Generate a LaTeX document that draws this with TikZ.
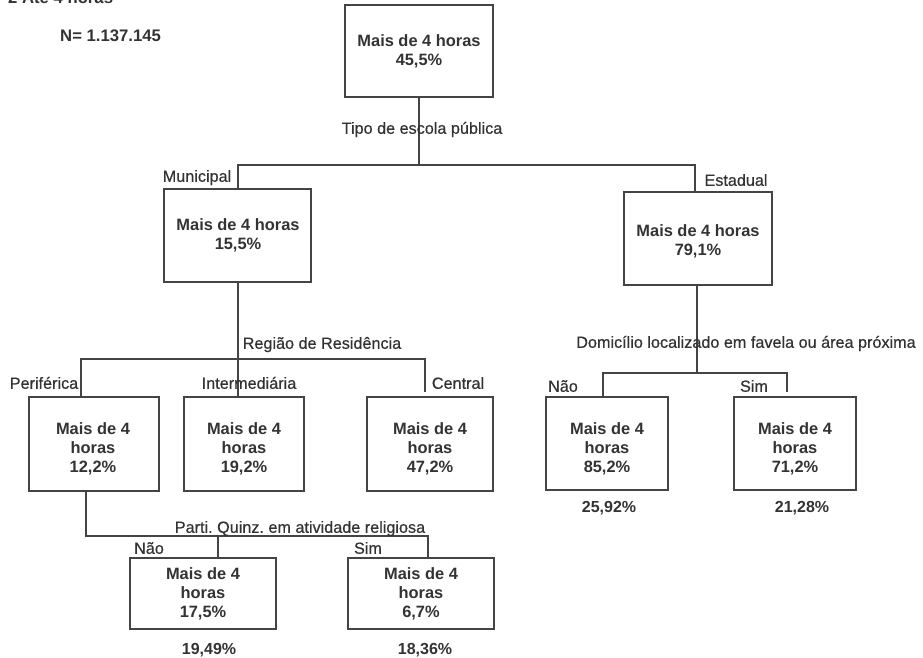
\documentclass[tikz,border=0pt]{standalone}
\usepackage{fontspec}
\setmainfont{Liberation Sans}
% slightly heavier regular weight for the branch labels
\newfontfamily\labfont{Liberation Sans}[FakeBold=0.5]
\frenchspacing
\definecolor{linec}{HTML}{444444}
\definecolor{textc}{HTML}{333333}
\tikzset{
  boxframe/.style 2 args={draw=linec, line width=1.6pt, rectangle, inner sep=0pt,
    minimum width=#1, minimum height=#2},
  boxtext/.style={font=\bfseries\fontsize{16.4}{19}\selectfont, text=textc,
    align=center, inner sep=0pt},
  lab/.style={font=\labfont\fontsize{16.2}{19}\selectfont, text=textc, inner sep=0pt,
    text height=11.6pt, text depth=0pt},
  pct/.style={font=\bfseries\fontsize{16}{19}\selectfont, text=textc, inner sep=0pt,
    text height=11.5pt, text depth=0pt},
  conn/.style={draw=linec, line width=1.6pt},
}
\begin{document}
\begin{tikzpicture}[x=1pt, y=-1pt]
\useasboundingbox (0,0) rectangle (923,657);
\fill[white] (0,0) rectangle (923,657);

% heading (cut by the page edge) and sample size
\node[font=\bfseries\fontsize{16.7}{19}\selectfont, text=textc, inner sep=0pt,
  anchor=base west] (title) at (8,3) {2 Até 4 horas};
\node[font=\bfseries\fontsize{16.7}{19}\selectfont, text=textc, inner sep=0pt,
  text height=12pt, text depth=0pt, anchor=west] (ntotal) at (60,35) {N= 1.137.145};

% tree boxes
\node[boxframe={148pt}{92pt}] (root) at (419,51) {};
\node[boxtext] (rootT) at (419,51.5) {Mais de 4 horas\\45,5\%};

\node[boxframe={147pt}{93pt}] (mun) at (237.5,235.5) {};
\node[boxtext] (munT) at (238,235) {Mais de 4 horas\\15,5\%};

\node[boxframe={148pt}{93pt}] (est) at (698,238.5) {};
\node[boxtext] (estT) at (698,241) {Mais de 4 horas\\79,1\%};

\node[boxframe={130pt}{94pt}] (per) at (94,444) {};
\node[boxtext] (perT) at (93,449) {Mais de 4\\horas\\12,2\%};

\node[boxframe={120pt}{94pt}] (int) at (244,444) {};
\node[boxtext] (intT) at (244,449) {Mais de 4\\horas\\19,2\%};

\node[boxframe={126pt}{94pt}] (cen) at (430,444) {};
\node[boxtext] (cenT) at (430,449) {Mais de 4\\horas\\47,2\%};

\node[boxframe={122pt}{93pt}] (dnao) at (607,443.5) {};
\node[boxtext] (dnaoT) at (607,449) {Mais de 4\\horas\\85,2\%};

\node[boxframe={122pt}{93pt}] (dsim) at (795,443.5) {};
\node[boxtext] (dsimT) at (795,449) {Mais de 4\\horas\\71,2\%};

\node[boxframe={146pt}{71pt}] (bnao) at (203,593.5) {};
\node[boxtext] (bnaoT) at (203,593.5) {Mais de 4\\horas\\17,5\%};

\node[boxframe={146pt}{71pt}] (bsim) at (421,593.5) {};
\node[boxtext] (bsimT) at (421,593.5) {Mais de 4\\horas\\6,7\%};

% junction points of the split lines
\coordinate (j1) at (419,165);
\coordinate (j2) at (238,359);
\coordinate (j3) at (86,536);
\coordinate (j4) at (697,373);

% first split: type of public school
\draw[conn] (root.south) -- (j1);
\draw[conn] ([xshift=0.5pt]mun.north) |- (j1) -| ([xshift=-3pt]est.north);

% municipal split: region of residence
\draw[conn] ([xshift=0.5pt]mun.south) -- ([xshift=0.5pt]mun.south |- int.north);
\draw[conn] ([xshift=-13pt]per.north) |- (j2) -| ([xshift=-5pt,yshift=4pt]cen.north);

% peripheral split: religious activity
\draw[conn] ([xshift=-8pt]per.south) |- ([xshift=7pt]bsim.north |- j3) -- ([xshift=7pt]bsim.north);
\draw[conn] ([xshift=15pt]bnao.north) -- ([xshift=15pt]bnao.north |- j3);

% state split: home in or near a favela
\draw[conn] ([xshift=-1pt]est.south) -- (j4);
\draw[conn] ([xshift=-4pt]dnao.north) |- (j4) -| ([xshift=-8pt,yshift=4pt]dsim.north);

% split and branch labels
\node[lab] (lTipo) at (422,128) {Tipo de escola pública};
\node[lab] (lMun) at (197,176) {Municipal};
\node[lab] (lEst) at (736,180) {Estadual};
\node[lab] (lReg) at (322,343) {Região de Residência};
\node[lab] (lPer) at (44,383) {Periférica};
\node[lab] (lInt) at (249,383) {Intermediária};
\node[lab] (lCen) at (458,383) {Central};
\node[lab] (lDom) at (746,342) {Domicílio localizado em favela ou área próxima};
\node[lab] (lDNao) at (563,386) {Não};
\node[lab] (lDSim) at (754,386) {Sim};
\node[lab] (lRel) at (300,527) {Parti. Quinz. em atividade religiosa};
\node[lab] (lBNao) at (149,548) {Não};
\node[lab] (lBSim) at (368,548) {Sim};

% shares under the leaves
\node[pct] (pBNao) at (209,649) {19,49\%};
\node[pct] (pBSim) at (425,649) {18,36\%};
\node[pct] (pDNao) at (609,507) {25,92\%};
\node[pct] (pDSim) at (802,507) {21,28\%};
\end{tikzpicture}
\end{document}
